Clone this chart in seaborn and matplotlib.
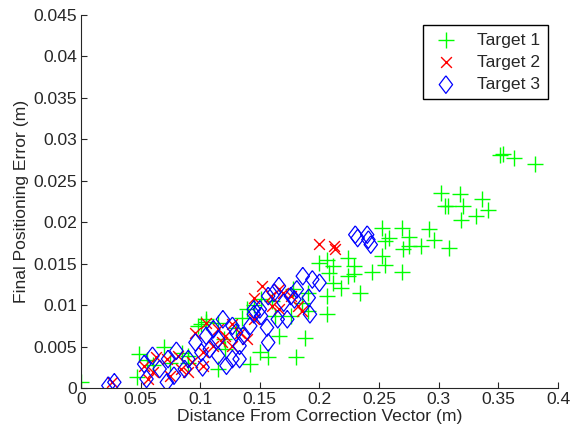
import matplotlib
matplotlib.use("Agg")
import matplotlib.pyplot as plt
import seaborn as sns
import pandas as pd

# Target 1 (green plus)
t1_x = [0.351, 0.354, 0.363, 0.381, 0.302, 0.318, 0.336, 0.305, 0.308, 0.320,
        0.341, 0.331, 0.319, 0.292, 0.296, 0.309, 0.252, 0.269, 0.258, 0.275,
        0.255, 0.270, 0.275, 0.285, 0.252, 0.255, 0.244, 0.269, 0.224, 0.229,
        0.229, 0.224, 0.234, 0.200, 0.206, 0.211, 0.208, 0.211, 0.218, 0.206,
        0.206, 0.188, 0.180, 0.157, 0.150, 0.142, 0.166, 0.190, 0.190, 0.176,
        0.185, 0.000, 0.049, 0.047, 0.101, 0.105, 0.115, 0.121, 0.070, 0.090,
        0.139, 0.151, 0.163, 0.178, 0.105, 0.115, 0.130, 0.120, 0.135, 0.098,
        0.090, 0.075, 0.085, 0.060, 0.055, 0.145, 0.160]
t1_y = [0.0281, 0.0282, 0.0277, 0.0270, 0.0235, 0.0234, 0.0228, 0.0219, 0.0220, 0.0219,
        0.0215, 0.0208, 0.0203, 0.0192, 0.0179, 0.0169, 0.0193, 0.0193, 0.0181, 0.0182,
        0.0177, 0.0168, 0.0171, 0.0171, 0.0159, 0.0149, 0.0140, 0.0140, 0.0157, 0.0147,
        0.0137, 0.0135, 0.0115, 0.0151, 0.0155, 0.0147, 0.0139, 0.0127, 0.0121, 0.0111,
        0.0089, 0.0061, 0.0037, 0.0037, 0.0044, 0.0029, 0.0063, 0.0115, 0.0093, 0.0087,
        0.0103, 0.0007, 0.0041, 0.0013, 0.0077, 0.0083, 0.0023, 0.0047, 0.0049, 0.0039,
        0.0095, 0.0107, 0.0087, 0.0119, 0.0080, 0.0078, 0.0072, 0.0059, 0.0085, 0.0075,
        0.0030, 0.0030, 0.0042, 0.0028, 0.0034, 0.0100, 0.0105]

# Target 2 (red x)
t2_x = [0.200, 0.212, 0.213, 0.145, 0.152, 0.159, 0.166, 0.169, 0.176, 0.182,
        0.185, 0.096, 0.105, 0.115, 0.127, 0.121, 0.133, 0.139, 0.102, 0.093,
        0.084, 0.075, 0.056, 0.053, 0.063, 0.072, 0.081, 0.060, 0.026, 0.111,
        0.118, 0.090, 0.102, 0.127, 0.160, 0.166, 0.145]
t2_y = [0.0174, 0.0171, 0.0168, 0.0109, 0.0123, 0.0111, 0.0119, 0.0115, 0.0111, 0.0099,
        0.0093, 0.0067, 0.0079, 0.0071, 0.0077, 0.0063, 0.0067, 0.0059, 0.0043, 0.0031,
        0.0023, 0.0015, 0.0011, 0.0027, 0.0037, 0.0035, 0.0039, 0.0019, 0.0007, 0.0051,
        0.0055, 0.0019, 0.0027, 0.0051, 0.0099, 0.0095, 0.0083]

# Target 3 (blue diamond)
t3_x = [0.023, 0.028, 0.230, 0.232, 0.240, 0.241, 0.243, 0.186, 0.194, 0.200,
        0.192, 0.191, 0.181, 0.176, 0.166, 0.162, 0.157, 0.150, 0.145, 0.151,
        0.156, 0.157, 0.165, 0.173, 0.136, 0.133, 0.127, 0.133, 0.122, 0.115,
        0.119, 0.111, 0.105, 0.096, 0.101, 0.102, 0.090, 0.087, 0.080, 0.073,
        0.078, 0.072, 0.060, 0.053, 0.055, 0.066, 0.130, 0.142, 0.127, 0.115,
        0.108, 0.145, 0.170, 0.179]
t3_y = [0.0003, 0.0007, 0.0185, 0.0181, 0.0185, 0.0179, 0.0173, 0.0135, 0.0131, 0.0127,
        0.0089, 0.0109, 0.0119, 0.0111, 0.0123, 0.0115, 0.0111, 0.0095, 0.0089, 0.0087,
        0.0073, 0.0055, 0.0083, 0.0083, 0.0063, 0.0051, 0.0035, 0.0035, 0.0027, 0.0039,
        0.0083, 0.0071, 0.0063, 0.0055, 0.0043, 0.0025, 0.0035, 0.0023, 0.0045, 0.0035,
        0.0015, 0.0007, 0.0039, 0.0029, 0.0011, 0.0023, 0.0067, 0.0075, 0.0075, 0.0059,
        0.0047, 0.0095, 0.0103, 0.0107]

x_ticks = [0, 0.05, 0.1, 0.15, 0.2, 0.25, 0.3, 0.35, 0.4]
x_tick_labels = ["0", "0.05", "0.1", "0.15", "0.2", "0.25", "0.3", "0.35", "0.4"]
y_ticks = [0, 0.005, 0.01, 0.015, 0.02, 0.025, 0.03, 0.035, 0.04, 0.045]
y_tick_labels = ["0", "0.005", "0.01", "0.015", "0.02", "0.025", "0.03", "0.035", "0.04", "0.045"]

sns.set_style("ticks")
plt.rcParams['font.family'] = ['Liberation Sans', 'DejaVu Sans']
plt.rcParams['xtick.direction'] = 'in'
plt.rcParams['ytick.direction'] = 'in'

# MATLAB-style diamond: a bit taller than wide
diamond = [(0, 1), (0.76, 0), (0, -1), (-0.76, 0), (0, 1)]

df1 = pd.DataFrame({'x': t1_x, 'y': t1_y})
df2 = pd.DataFrame({'x': t2_x, 'y': t2_y})
df3 = pd.DataFrame({'x': t3_x, 'y': t3_y})

fig = plt.figure(figsize=(5.7, 4.4), dpi=100)
ax = fig.add_axes([0.142, 0.118, 0.837, 0.848])

sns.scatterplot(data=df1, x='x', y='y', marker='+', s=130, color=(0, 1, 0),
                linewidth=1.0, label='Target 1', ax=ax)
sns.scatterplot(data=df2, x='x', y='y', marker='x', s=60, color=(1, 0, 0),
                linewidth=1.0, label='Target 2', ax=ax)
sns.scatterplot(data=df3, x='x', y='y', marker=diamond, s=160, facecolor='none',
                edgecolor=(0, 0, 1), linewidth=0.9, label='Target 3', ax=ax)

ax.set_xlim(0, 0.4)
ax.set_ylim(0, 0.045)
ax.set_xticks(x_ticks)
ax.set_xticklabels(x_tick_labels)
ax.set_yticks(y_ticks)
ax.set_yticklabels(y_tick_labels)
ax.tick_params(labelsize=12.6, length=4, width=0.8, pad=3)
ax.set_xlabel("Distance From Correction Vector (m)", fontsize=12.6, labelpad=1)
ax.set_ylabel("Final Positioning Error (m)", fontsize=12.6, labelpad=3)
sns.despine(ax=ax)

leg = ax.legend(loc='upper right', fontsize=12.6, frameon=True, fancybox=False,
                edgecolor='black', framealpha=1, handletextpad=0.9,
                handlelength=1.8, borderpad=0.4, labelspacing=0.4,
                bbox_to_anchor=(1.0, 1.0), borderaxespad=0.6)
leg.get_frame().set_linewidth(1.0)

fig.savefig("out.png", dpi=100)
